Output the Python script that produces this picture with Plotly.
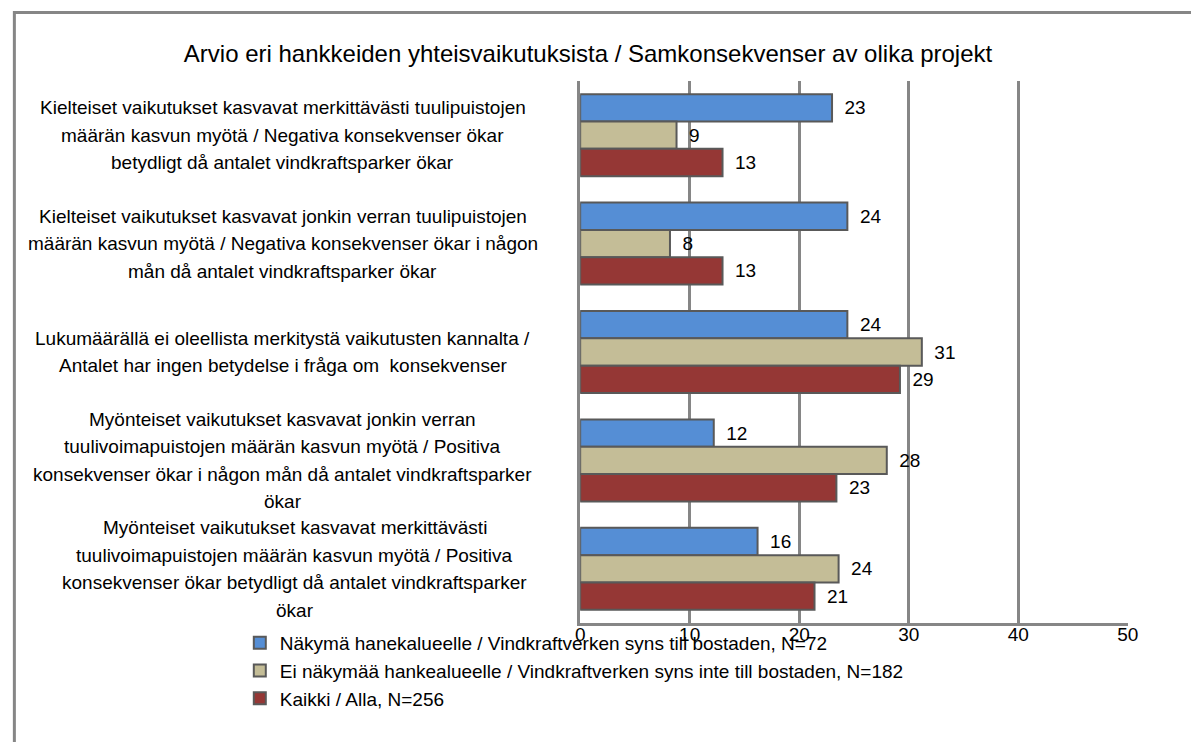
import plotly.graph_objects as go

# ---------------- data ----------------
category_lines = [
    ["Kielteiset vaikutukset kasvavat merkittävästi tuulipuistojen",
     "määrän kasvun myötä / Negativa konsekvenser ökar",
     "betydligt då antalet vindkraftsparker ökar"],
    ["Kielteiset vaikutukset kasvavat jonkin verran tuulipuistojen",
     "määrän kasvun myötä / Negativa konsekvenser ökar i någon",
     "mån då antalet vindkraftsparker ökar"],
    ["Lukumäärällä ei oleellista merkitystä vaikutusten kannalta /",
     "Antalet har ingen betydelse i fråga om  konsekvenser"],
    ["Myönteiset vaikutukset kasvavat jonkin verran",
     "tuulivoimapuistojen määrän kasvun myötä / Positiva",
     "konsekvenser ökar i någon mån då antalet vindkraftsparker",
     "ökar"],
    ["Myönteiset vaikutukset kasvavat merkittävästi",
     "tuulivoimapuistojen määrän kasvun myötä / Positiva",
     "konsekvenser ökar betydligt då antalet vindkraftsparker",
     "ökar"],
]
categories = [" ".join(l) for l in category_lines]

series_names = [
    "Näkymä hanekalueelle / Vindkraftverken syns till bostaden, N=72",
    "Ei näkymää hankealueelle / Vindkraftverken syns inte till bostaden, N=182",
    "Kaikki / Alla, N=256",
]
visible_values = [23.0, 24.4, 24.4, 12.2, 16.2]
not_visible_values = [8.8, 8.2, 31.2, 28.0, 23.6]
all_values = [13.0, 13.0, 29.2, 23.4, 21.4]
tick_values = [0, 10, 20, 30, 40, 50]

# ---------------- style ----------------
colors = ["#558ED5", "#C4BD97", "#953735"]
outline = "#595959"
grid = "#868686"
FONT = "Liberation Sans"
FS = 19
W, H = 1191, 742

def px(x):
    return x / W

def py(y):
    return 1 - y / H

fig = go.Figure()
for i, (name, vals) in enumerate(zip(series_names, [visible_values, not_visible_values, all_values])):
    fig.add_trace(go.Bar(
        y=categories, x=vals, orientation="h", name=name,
        marker=dict(color=colors[i], line=dict(color=outline, width=2)),
        text=[f"\u2002{v:.0f}" for v in vals], textposition="outside",
        textfont=dict(size=FS, color="black", family=FONT),
        cliponaxis=False, legendgroup=f"g{i}",
    ))

# category labels (centered multi-line, like the original)
label_center_x = [281.5, 281.5, 281.5, 281.5, 293.5]
line_h = 27.5
for c, lines, cx in zip(categories, category_lines, label_center_x):
    n = len(lines)
    for k, ln in enumerate(lines):
        off = (k - (n - 1) / 2) * line_h
        fig.add_annotation(
            x=px(cx), xref="paper", y=c, yref="y", yshift=-off,
            text=ln, showarrow=False, xanchor="center", yanchor="middle",
            font=dict(size=FS, family=FONT, color="black"),
        )

# outer chart border (continues beyond right/bottom edges)
fig.add_shape(type="rect", xref="paper", yref="paper",
              x0=px(9.5), x1=1.03, y0=-0.03, y1=py(12.5),
              line=dict(color=grid, width=3), fillcolor="rgba(0,0,0,0)", layer="below")

fig.update_layout(
    width=W, height=H,
    margin=dict(l=0, r=0, t=0, b=0),
    paper_bgcolor="white", plot_bgcolor="white",
    barmode="group", bargap=0.244, bargroupgap=0.0,
    font=dict(family=FONT, size=FS, color="black"),
    title=dict(text="Arvio eri hankkeiden yhteisvaikutuksista / Samkonsekvenser av olika projekt",
               x=px(588), xanchor="center", y=py(54), yanchor="middle", yref="container",
               font=dict(size=24, family=FONT, color="black")),
    xaxis=dict(domain=[px(583), px(1138)], range=[0, 50], tickvals=tick_values,
               showgrid=True, gridcolor=grid, gridwidth=2.5,
               showline=True, linecolor=grid, linewidth=3,
               zeroline=False, tickfont=dict(size=FS, family=FONT), ticks="",
               ticklabelstandoff=-8),
    yaxis=dict(domain=[py(623), py(81)], autorange="reversed",
               showticklabels=False, showline=True, linecolor=grid, linewidth=3,
               showgrid=False, ticks=""),
    legend=dict(x=px(238), y=py(624), xanchor="left", yanchor="top",
                orientation="v", tracegroupgap=0, font=dict(size=FS, family=FONT),
                bgcolor="rgba(0,0,0,0)"),
    showlegend=True,
)

fig.write_html(
    "out.html",
    config={"displayModeBar": False},
    post_script="document.body.style.margin='0px';document.body.style.overflow='hidden';"
                "document.documentElement.style.overflow='hidden';",
)
